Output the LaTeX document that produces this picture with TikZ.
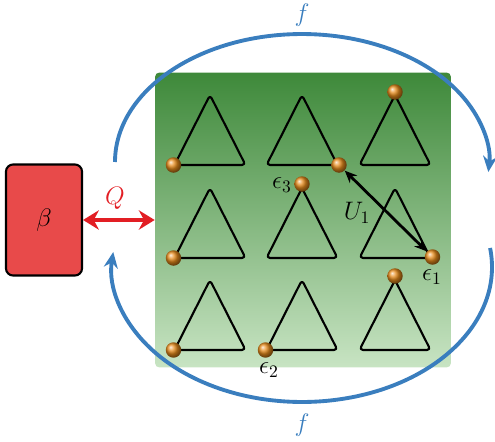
\documentclass[tikz,border=0pt]{standalone}
\usepackage{amsmath,amssymb}
\usepackage{xcolor}
\definecolor{ColBlue}{RGB}{58,126,190}
\definecolor{ColRed}{RGB}{226,30,36}
\definecolor{ColBox}{RGB}{232,74,74}
\definecolor{ColGreenTop}{RGB}{62,137,58}
\definecolor{ColGreenBot}{RGB}{200,228,195}
\definecolor{ColBall}{RGB}{232,140,28}
\usepackage{tikz}
\usetikzlibrary{arrows.meta}
\tikzstyle{Lattice}=[rectangle,rounded corners=2.5pt,top color=ColGreenTop,
bottom color=ColGreenBot,minimum width=5.92cm,minimum height=5.9cm,inner sep=0pt]
\tikzstyle{Bath}=[rectangle,draw=black,line width=1.2pt,fill=ColBox,
rounded corners=4pt,minimum width=1.52cm,minimum height=2.22cm,inner sep=0pt,font=\Large]
\tikzstyle{Tri}=[draw=black,line width=1.2pt,rounded corners=2pt,line join=round]
\tikzstyle{Ball}=[circle,shading=ball,ball color=ColBall,minimum size=0.31cm,inner sep=0pt]
\tikzstyle{Cycle}=[draw=ColBlue,line width=2.2pt,-{Stealth[length=9pt,width=8pt]}]
\tikzstyle{Heat}=[draw=ColRed,line width=2.2pt,
{Stealth[length=9pt,width=11pt]}-{Stealth[length=9pt,width=11pt]}]
\tikzstyle{Hop}=[draw=black,line width=1.6pt,
{Stealth[length=7pt,width=6pt]}-{Stealth[length=7pt,width=6pt]}]
\tikzstyle{NodeST}=[font=\Large]

\begin{document}
\begin{tikzpicture}[x=0.02cm,y=0.02cm]
        \useasboundingbox(0,0)rectangle(495,441);
        \node[Lattice](lattice)at(303,221){};
        \node[Bath](beta)at(44,221){$\beta$};
        \coordinate(fa)at(115,279);
        \coordinate(fb)at(490.1,193);
        \draw[Cycle](fa)arc[start angle=180,end angle=-4.5,x radius=3.74cm,y radius=2.56cm];
        \draw[Cycle](fb)arc[start angle=8.1,end angle=-186.4,x radius=3.8cm,y radius=2.7cm];
        \draw[Heat](beta)--(lattice);
        \draw[Tri](174.5,276)--(210,346)--(245.5,276)--cycle;
        \draw[Tri](266.5,276)--(302,346)--(337.5,276)--cycle;
        \draw[Tri](359.5,276)--(395,346)--(430.5,276)--cycle;
        \draw[Tri](174.5,183)--(210,253)--(245.5,183)--cycle;
        \draw[Tri](266.5,183)--(302,253)--(337.5,183)--cycle;
        \draw[Tri](359.5,183)--(395,253)--(430.5,183)--cycle;
        \draw[Tri](174.5,91)--(210,161)--(245.5,91)--cycle;
        \draw[Tri](266.5,91)--(302,161)--(337.5,91)--cycle;
        \draw[Tri](359.5,91)--(395,161)--(430.5,91)--cycle;
        \node[Ball](b1)at(173.5,276){};
        \node[Ball](b2)at(339,276){};
        \node[Ball](b3)at(395,349){};
        \node[Ball](b4)at(173.5,183){};
        \node[Ball](e3)at(302,257){};
        \node[Ball](e1)at(432.5,184){};
        \node[Ball](b5)at(395,165){};
        \node[Ball](b6)at(173.5,91){};
        \node[Ball](e2)at(265.5,91){};
        \draw[Hop](e1)--(b2);
        \node[NodeST](Le3)at(282,256){$\epsilon_3$};
        \node[NodeST](Le1)at(432,164){$\epsilon_1$};
        \node[NodeST](Le2)at(269,71){$\epsilon_2$};
        \node[NodeST](U)at(357,228){$U_1$};
        \node[NodeST,text=ColRed](Q)at(115,243){$Q$};
        \node[NodeST,text=ColBlue](fTop)at(302,426){$f$};
        \node[NodeST,text=ColBlue](fBot)at(302,16){$f$};
    \end{tikzpicture}
\end{document}
